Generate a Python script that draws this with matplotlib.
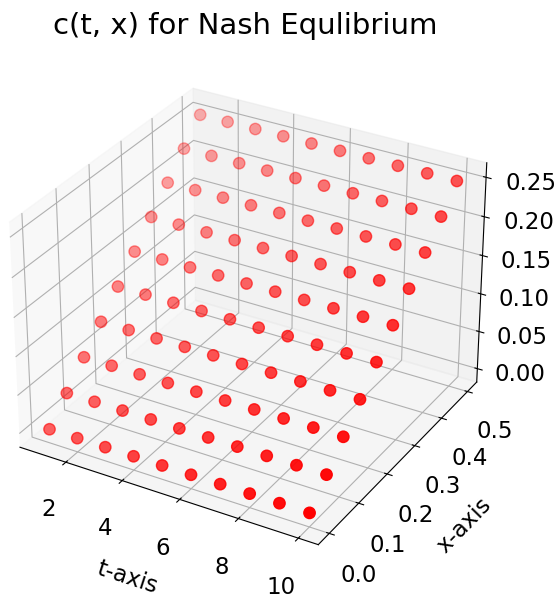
import numpy as np
import matplotlib
matplotlib.use("Agg")
import matplotlib.pyplot as plt

# ── Data ─────────────────────────────────────────────────────────────────────
t_vals = [1, 2, 3, 4, 5, 6, 7, 8, 9, 10]
x_vals = [0.0, 0.0556, 0.1111, 0.1667, 0.2222, 0.2778, 0.3333, 0.3889, 0.4444, 0.5]
c_vals = [0.0, 0.0278, 0.0556, 0.0833, 0.1111, 0.1389, 0.1667, 0.1944, 0.2222, 0.25]  # c per x row, same for every t

plt.rcParams["font.size"] = 16.5

fig = plt.figure(figsize=(5.59, 6.01), dpi=100)
ax = fig.add_axes([-0.036, 0.038, 0.95, 0.8835], projection="3d")

T, X = np.meshgrid(t_vals, x_vals)
C = np.tile(np.array(c_vals)[:, None], (1, len(t_vals)))
ax.scatter(T.ravel(), X.ravel(), C.ravel(), c="red", s=67)

ax.tick_params(axis="x", pad=11)
ax.tick_params(axis="y", pad=11)
ax.tick_params(axis="z", pad=11.5)
ax.set_xlabel("t-axis", labelpad=21)
ax.set_ylabel("x-axis", labelpad=21)
fig.suptitle("c(t, x) for Nash Equlibrium", fontsize=21, x=0.438, y=0.98)

fig.savefig("out.png", dpi=100)
